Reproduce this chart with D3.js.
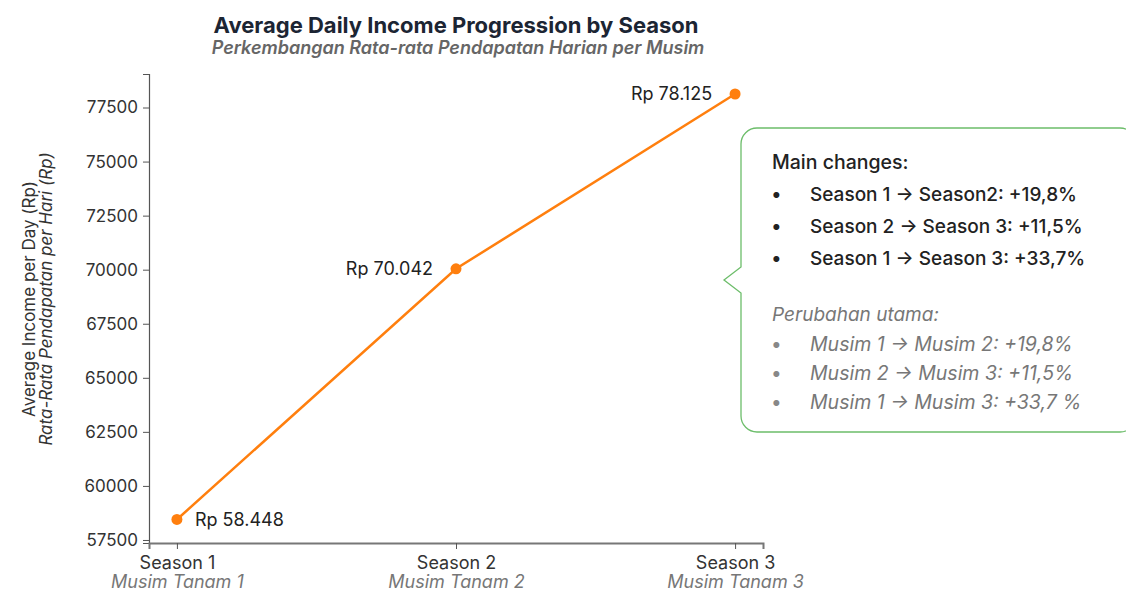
<!DOCTYPE html>
<html>
<head>
<meta charset="utf-8">
<script src="https://cdn.jsdelivr.net/npm/d3@7"></script>
<style>
  body { margin: 0; background: #fff; }
  text { font-family: Inter, "Noto Sans", sans-serif; }
</style>
</head>
<body>
<script>
var seasons = ["Season 1", "Season 2", "Season 3"];
var seasonsId = ["Musim Tanam 1", "Musim Tanam 2", "Musim Tanam 3"];
var income = [58448, 70042, 78125];
var incomeLabels = ["Rp 58.448", "Rp 70.042", "Rp 78.125"];
var yTicks = [57500, 60000, 62500, 65000, 67500, 70000, 72500, 75000, 77500];
var notesEn = ["Season 1 \u2192 Season2: +19,8%", "Season 2 \u2192 Season 3: +11,5%", "Season 1 \u2192 Season 3: +33,7%"];
var notesId = ["Musim 1 \u2192 Musim 2: +19,8%", "Musim 2 \u2192 Musim 3: +11,5%", "Musim 1 \u2192 Musim 3: +33,7 %"];

var width = 1126, height = 593;

var svg = d3.select("body")
            .append("svg")
            .attr("width", width)
            .attr("height", height);

var x = d3.scalePoint()
          .domain(seasons)
          .range([149, 763])
          .padding(0.1);

var y = d3.scaleLinear()
          .domain([57360, 79050])
          .range([543, 74]);

// title
svg.append("text")
   .attr("x", 456).attr("y", 33)
   .attr("text-anchor", "middle")
   .attr("font-size", "22px")
   .attr("font-weight", 700)
   .attr("fill", "#1c2533")
   .text("Average Daily Income Progression by Season");

svg.append("text")
   .attr("x", 458).attr("y", 54)
   .attr("text-anchor", "middle")
   .attr("font-size", "18px")
   .attr("font-weight", 600)
   .attr("font-style", "italic")
   .attr("fill", "#666")
   .text("Perkembangan Rata-rata Pendapatan Harian per Musim");

// axes
var yAxis = svg.append("g")
   .attr("transform", "translate(149,0)")
   .call(d3.axisLeft(y).tickValues(yTicks).tickSize(6).tickPadding(5).tickFormat(d3.format("d")));

var xAxis = svg.append("g")
   .attr("transform", "translate(0,543)")
   .call(d3.axisBottom(x).tickSize(6).tickPadding(6));

[yAxis, xAxis].forEach(function(g) {
  g.selectAll("path").attr("stroke", "#555").attr("stroke-width", 1.2);
  g.selectAll("line").attr("stroke", "#555");
  g.selectAll("text").attr("font-family", "Inter").attr("font-size", "17px").attr("fill", "#333");
});
xAxis.select(".domain").attr("stroke", "#777").attr("stroke-width", 2);

xAxis.selectAll(".tick text").attr("y", 13).attr("font-size", "18px");
xAxis.selectAll(".tick")
     .append("text")
     .attr("y", 32)
     .attr("dy", "0.71em")
     .attr("text-anchor", "middle")
     .attr("font-size", "18px")
     .attr("font-style", "italic")
     .attr("fill", "#777")
     .text(function(d, i) { return seasonsId[i]; });

// y axis title
var yt = svg.append("text")
   .attr("transform", "translate(35,299) rotate(-90)")
   .attr("text-anchor", "middle")
   .attr("font-size", "17px")
   .attr("fill", "#333");
yt.append("tspan").attr("x", 0).attr("y", 0).text("Average Income per Day (Rp)");
yt.append("tspan").attr("x", 0).attr("y", 17).attr("font-style", "italic")
  .text("Rata-Rata Pendapatan per Hari (Rp)");

// line
var line = d3.line()
  .x(function(d, i) { return x(seasons[i]); })
  .y(function(d) { return y(d); });

svg.append("path")
   .datum(income)
   .attr("d", line)
   .attr("fill", "none")
   .attr("stroke", "#ff7f0e")
   .attr("stroke-width", 2.5);

svg.selectAll(".dot")
   .data(income)
   .enter().append("circle")
   .attr("class", "dot")
   .attr("cx", function(d, i) { return x(seasons[i]); })
   .attr("cy", function(d) { return y(d); })
   .attr("r", 5.5)
   .attr("fill", "#ff7f0e");

svg.selectAll(".vlabel")
   .data(income)
   .enter().append("text")
   .attr("class", "vlabel")
   .attr("x", function(d, i) { return x(seasons[i]) + (i == 0 ? 18 : -23); })
   .attr("y", function(d, i) { return y(d) + (i == 0 ? 7 : 6); })
   .attr("text-anchor", function(d, i) { return i == 0 ? "start" : "end"; })
   .attr("font-size", "18px")
   .attr("fill", "#222")
   .text(function(d, i) { return incomeLabels[i]; });

// callout box
var bx = 741, by = 128, bw = 395, bh = 304, r = 16;
var ax = 724, ay = 280, ah = 13;
var p = d3.path();
p.moveTo(bx + r, by);
p.lineTo(bx + bw - r, by);
p.arcTo(bx + bw, by, bx + bw, by + r, r);
p.lineTo(bx + bw, by + bh - r);
p.arcTo(bx + bw, by + bh, bx + bw - r, by + bh, r);
p.lineTo(bx + r, by + bh);
p.arcTo(bx, by + bh, bx, by + bh - r, r);
p.lineTo(bx, ay + ah);
p.lineTo(ax, ay);
p.lineTo(bx, ay - ah);
p.lineTo(bx, by + r);
p.arcTo(bx, by, bx + r, by, r);
p.closePath();

svg.append("path")
   .attr("d", p.toString())
   .attr("fill", "#fff")
   .attr("stroke", "#6cbd6a")
   .attr("stroke-width", 1.3);

svg.append("text")
   .attr("x", 772).attr("y", 169)
   .attr("font-size", "19.5px")
   .attr("font-weight", 500)
   .attr("fill", "#222")
   .text("Main changes:");

notesEn.forEach(function(t, i) {
  var yy = 201 + i * 32;
  svg.append("text").attr("x", 771).attr("y", yy).attr("font-size", "19px").attr("fill", "#222").text("\u2022");
  svg.append("text").attr("x", 810).attr("y", yy).attr("font-size", "19px").attr("font-weight", 500).attr("fill", "#222").text(t);
});

svg.append("text")
   .attr("x", 772).attr("y", 321)
   .attr("font-size", "19px")
   .attr("font-style", "italic")
   .attr("fill", "#777")
   .text("Perubahan utama:");

notesId.forEach(function(t, i) {
  var yy = 351 + i * 29;
  svg.append("text").attr("x", 771).attr("y", yy).attr("font-size", "19px").attr("fill", "#888").text("\u2022");
  svg.append("text").attr("x", 810).attr("y", yy).attr("font-size", "19.5px").attr("font-style", "italic").attr("fill", "#777").text(t);
});
</script>
</body>
</html>
